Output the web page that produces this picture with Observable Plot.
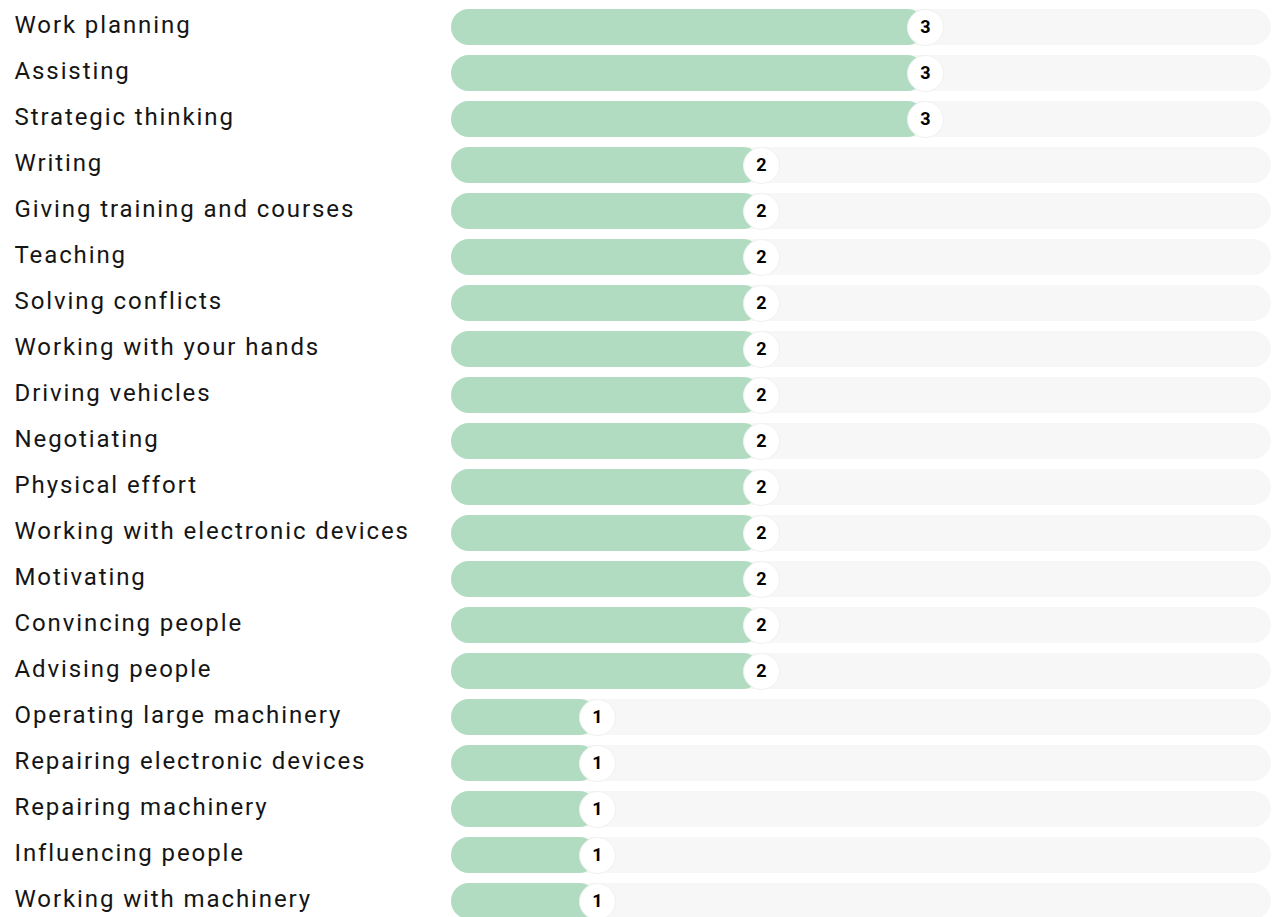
<!DOCTYPE html>
<html>
<head>
<meta charset="utf-8">
<script src="https://cdn.jsdelivr.net/npm/d3@7"></script>
<script src="https://cdn.jsdelivr.net/npm/@observablehq/plot@0.6"></script>
<style>
  html, body { margin: 0; padding: 0; background: #fff; overflow: hidden; }
  .skills [aria-label="y-axis tick label"] text { letter-spacing: 1.9px; }
</style>
</head>
<body>
<div id="chart"></div>
<script>
const skills = [
  "Work planning", "Assisting", "Strategic thinking", "Writing",
  "Giving training and courses", "Teaching", "Solving conflicts",
  "Working with your hands", "Driving vehicles", "Negotiating",
  "Physical effort", "Working with electronic devices", "Motivating",
  "Convincing people", "Advising people", "Operating large machinery",
  "Repairing electronic devices", "Repairing machinery",
  "Influencing people", "Working with machinery"
];
const counts = [3, 3, 3, 2, 2, 2, 2, 2, 2, 2, 2, 2, 2, 2, 2, 1, 1, 1, 1, 1];
const maxCount = 5;

const data = skills.map((s, i) => ({skill: s, value: counts[i], max: maxCount}));

const chart = Plot.plot({
  className: "skills",
  width: 1280,
  height: 924,
  marginLeft: 433,
  marginRight: 27,
  marginTop: 4,
  marginBottom: 0,
  style: {fontFamily: "Roboto, sans-serif", background: "#fff"},
  x: {domain: [0, maxCount], axis: null},
  y: {domain: skills, padding: 0, label: null},
  marks: [
    Plot.axisY({tickSize: 0, tickPadding: 0, textAnchor: "start", dx: -419, dy: -2.5, fontSize: 24, fill: "#151515"}),
    Plot.barX(data, {x1: 0, x2: "max", y: "skill", fill: "#f7f7f7", rx: 18, insetLeft: 18, insetRight: -18, insetTop: 5, insetBottom: 5}),
    Plot.barX(data, {x1: 0, x2: "value", y: "skill", fill: "#b2dcc2", rx: 18, insetLeft: 18, insetTop: 5, insetBottom: 5}),
    Plot.dot(data, {x: "value", y: "skill", r: 18, fill: "#fff", stroke: "#eef2ef", strokeWidth: 1}),
    Plot.text(data, {x: "value", y: "skill", dy: -0.5, text: d => String(d.value), fontSize: 18, fontWeight: "bold", fill: "#000"})
  ]
});
document.getElementById("chart").appendChild(chart);
</script>
</body>
</html>
